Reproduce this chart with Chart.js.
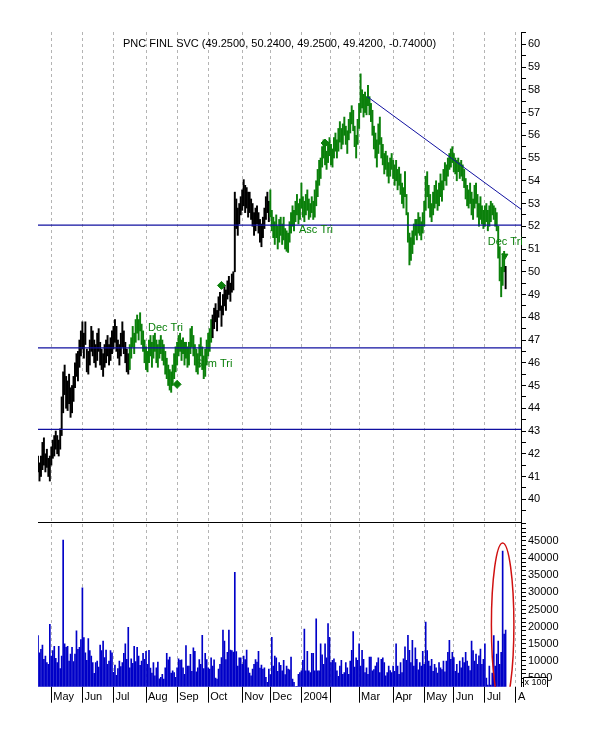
<!DOCTYPE html>
<html>
<head>
<meta charset="utf-8">
<title>PNC FINL SVC</title>
<script src="https://cdn.jsdelivr.net/npm/chart.js@4.4.0/dist/chart.umd.min.js"></script>
<style>
  html, body { margin: 0; padding: 0; background: #fff; }
  #wrap { width: 607px; height: 735px; }
</style>
</head>
<body>
<div id="wrap"><canvas id="chart" width="607" height="735"></canvas></div>
<script>
// PNC daily bars, mid-Apr 2003 .. Jul 2004 (x = trading day number)

const chartTitle = 'PNC FINL SVC (49.2500, 50.2400, 49.2500, 49.4200, -0.74000)';

const lows = [
  41.2,40.8,41.0,41.3,41.5,41.2,41.4,41.0,40.8,41.5,
  41.8,41.9,42.2,42.0,41.9,42.2,42.8,43.8,44.6,44.0,
  43.9,44.2,43.6,43.8,44.3,44.9,45.4,45.2,45.8,46.3,
  46.6,46.2,46.8,45.6,45.5,45.9,46.5,46.3,46.0,45.8,
  46.1,46.5,45.9,45.7,45.4,45.8,46.0,46.3,45.9,46.1,
  46.4,46.6,46.9,46.5,46.2,45.9,46.3,46.7,46.4,46.0,
  45.6,45.5,45.7,46.2,46.7,46.4,46.9,47.3,47.0,47.4,
  46.8,46.5,46.0,45.7,45.6,46.0,46.3,45.8,46.2,46.5,
  46.0,45.8,46.2,46.4,46.1,45.9,45.5,45.3,45.0,44.8,
  44.7,45.0,45.3,45.6,45.9,46.3,46.5,46.1,46.4,45.9,
  46.2,45.8,45.9,46.4,46.7,46.3,45.9,45.6,45.5,45.8,
  46.3,45.7,45.3,45.4,45.9,46.3,46.5,46.9,47.1,47.5,
  47.8,47.4,48.0,48.3,47.6,48.1,48.5,48.3,48.8,49.0,
  48.7,49.1,49.2,50.0,51.9,51.6,52.1,52.5,52.7,52.9,
  52.6,52.8,52.4,52.6,52.3,52.0,51.6,51.8,52.1,51.7,
  51.3,51.1,51.5,51.9,52.3,52.6,52.2,52.4,51.8,51.5,
  51.2,51.5,51.0,51.3,51.6,51.2,51.4,51.0,50.9,50.85,
  51.3,51.7,52.0,51.8,52.2,52.5,52.1,52.3,52.8,52.4,
  52.2,52.5,52.7,52.3,52.4,52.6,52.3,52.4,52.9,53.3,
  53.8,54.1,54.6,55.0,54.7,54.5,54.8,55.1,54.7,54.6,
  55.0,55.3,55.0,55.3,55.7,55.4,55.6,56.0,55.6,55.2,
  55.8,56.1,56.5,56.2,55.5,55.0,55.6,56.3,57.0,57.2,
  56.8,57.0,56.9,57.3,56.9,56.6,56.0,55.4,55.0,54.6,
  55.2,55.6,55.0,54.7,54.3,54.5,54.2,53.9,54.2,54.5,
  54.1,53.8,54.0,53.6,53.8,53.4,53.0,52.8,53.3,52.5,
  51.3,50.3,50.5,50.8,51.2,51.6,51.4,51.7,51.6,51.4,
  51.7,52.0,52.7,53.3,52.8,52.4,52.2,52.5,52.8,53.0,
  52.7,52.9,53.3,53.1,53.6,54.0,53.8,54.2,54.5,54.6,
  54.8,54.4,54.3,54.0,54.4,54.1,54.2,54.0,53.7,53.2,
  52.9,52.8,53.0,52.5,52.3,52.8,53.0,52.4,52.0,52.3,
  52.1,51.9,52.0,52.2,51.8,52.0,52.2,52.5,52.3,52.0,
  51.8,50.6,49.6,48.9,49.4,50.0,49.25
];

const highs = [
  41.9,41.6,41.9,42.5,42.7,42.0,42.2,41.8,41.9,42.3,
  42.6,42.8,43.0,42.8,42.6,43.1,44.5,45.6,45.9,45.4,
  45.2,45.5,44.9,45.0,45.4,46.0,46.4,46.5,47.0,47.4,
  47.8,47.3,47.8,46.6,46.5,47.0,47.6,47.4,47.0,46.8,
  47.3,47.5,46.9,46.6,46.4,46.8,47.0,47.2,46.8,47.1,
  47.4,47.6,47.9,47.6,47.0,46.8,47.3,47.8,47.4,46.9,
  46.6,46.4,46.8,47.1,47.6,47.3,47.9,48.1,47.9,48.2,
  47.7,47.4,47.0,46.7,46.5,47.0,47.2,46.9,47.2,47.3,
  47.0,46.8,47.0,47.2,47.0,46.8,46.5,46.2,45.9,45.7,
  45.6,45.9,46.4,46.7,46.9,47.2,47.3,47.0,47.1,46.9,
  46.9,46.7,46.9,47.5,47.6,47.2,46.8,46.6,46.4,46.8,
  47.1,46.7,46.3,46.6,47.0,47.3,47.5,47.9,48.1,48.4,
  48.6,48.3,48.9,49.1,48.5,49.0,49.4,49.2,49.6,49.8,
  49.5,49.9,50.0,53.5,53.2,52.8,53.0,53.3,53.6,54.05,
  53.8,53.7,53.5,53.5,53.2,53.0,52.6,52.8,52.9,52.6,
  52.3,52.1,52.4,52.8,53.3,53.5,53.1,53.6,52.7,52.4,
  52.2,52.5,52.0,52.3,52.4,52.1,52.4,51.9,51.8,51.7,
  52.2,52.6,52.9,52.7,53.1,53.4,53.0,53.2,53.9,53.3,
  53.1,53.4,53.6,53.2,53.0,53.3,53.1,53.6,54.0,54.5,
  54.9,55.0,55.5,55.8,55.6,55.3,55.7,55.9,55.6,55.4,
  55.9,56.1,55.8,56.3,56.6,56.3,56.5,56.8,56.4,56.2,
  56.7,57.0,57.3,57.1,56.4,56.0,56.7,57.4,58.7,58.0,
  57.8,57.9,57.7,58.2,57.7,57.4,57.1,56.4,56.1,55.8,
  56.5,56.8,55.9,55.6,55.2,55.3,55.1,54.8,55.0,55.2,
  54.9,54.7,54.9,54.5,54.6,54.3,53.9,53.7,54.4,53.4,
  52.6,51.7,51.5,51.8,52.1,52.3,52.3,52.6,52.4,52.2,
  52.6,53.1,54.2,54.4,53.8,53.4,53.0,53.5,53.8,54.0,
  53.6,53.9,54.3,54.0,54.5,54.8,54.7,55.0,55.2,55.4,
  55.5,55.2,55.0,54.9,55.0,54.8,54.9,54.7,54.5,54.1,
  53.8,53.6,53.9,53.5,53.2,53.8,53.9,53.4,53.0,53.3,
  52.9,52.7,52.9,53.0,52.7,52.9,53.1,53.0,52.9,52.8,
  52.6,52.0,51.1,50.2,50.8,50.9,50.24
];

const volumes = [
  17400,12400,13400,14600,10500,11400,9500,9000,20700,11400,
  13000,14300,10800,9500,14300,7800,11400,45200,15000,14000,
  14300,10000,12000,14000,9800,12000,18800,13400,14000,16200,
  31300,16800,12400,10200,16500,13000,11400,9500,6400,9500,
  10000,8200,14600,13000,15800,11000,13200,9000,10000,13000,
  12400,6700,8800,5800,7800,10000,8400,9500,12200,15000,
  10500,19800,8000,10600,9300,14300,9800,14000,11400,8700,
  10000,12200,10500,12800,9000,13100,7900,6500,9500,5700,
  8000,9700,4800,5200,6100,4700,8000,12200,10300,11100,
  6500,7100,6600,5200,8000,10600,10200,10300,8000,6100,
  14500,8500,8500,11900,7000,13800,12800,6800,8000,10400,
  9000,17500,7800,12200,10400,8000,7600,10900,8500,10300,
  5000,4700,7600,9000,11000,19000,15800,10400,12500,19000,
  13200,13000,12600,35800,12700,8500,10900,10900,9000,11400,
  10400,13200,8000,6500,5700,7600,9000,10400,9700,12800,
  7900,8800,7600,8000,5200,3800,7600,6000,16900,8500,
  11400,10900,7000,9500,8700,7100,10200,6000,8500,7600,
  7400,11100,4700,3800,2500,2600,6100,6600,7100,10200,
  19300,7100,12800,7100,6600,12200,12200,7100,22300,7100,
  7100,15000,11800,9000,15000,10900,20900,16900,9500,10200,
  10600,9500,7100,5500,8500,10200,6100,6600,9500,8000,
  6100,10000,13100,18600,8200,10900,10200,15000,8500,13100,
  10500,6600,8000,6100,11100,11100,7100,7500,8500,9500,
  10900,6600,10500,10900,9500,5700,6600,8500,7200,6600,
  8500,7000,15000,8500,6100,9500,6600,10600,14100,10200,
  17500,13100,9500,16000,8500,13800,10500,7400,9500,8500,
  12800,9000,21300,13000,10000,8500,10500,7000,9000,8000,
  6500,9500,8000,7500,10000,6800,10000,12500,16000,10500,
  12500,11000,7000,9000,6500,10000,8000,11000,9500,12500,
  10000,8500,7200,15800,13000,10000,12000,9000,11500,13500,
  9000,10500,15000,5000,3000,8500,3000,6500,17400,8500,
  12000,15800,9000,12500,42000,17800,19000
];

// first trading day of each month
const monthTicks = [9, 30, 51, 73, 94, 115, 138, 157, 178, 198, 217, 240, 261, 281, 302, 323];
const monthLabels = ['May', 'Jun', 'Jul', 'Aug', 'Sep', 'Oct', 'Nov', 'Dec', '2004', '', 'Mar', 'Apr', 'May', 'Jun', 'Jul', 'A'];

const priceLabels = [40, 41, 42, 43, 44, 45, 46, 47, 48, 49, 50, 51, 52, 53, 54, 55, 56, 57, 58, 59, 60];
const volumeLabels = [5000, 10000, 15000, 20000, 25000, 30000, 35000, 40000, 45000];

// drawn lines / marks
const supportLevels = [52.05, 46.65, 43.07];
const trendLine = [[222.5, 57.7], [326.4, 52.75]];
const breakoutMarks = [[94, 45.05], [124, 49.4], [194, 55.66]];
const signalMarks = [[315.5, 50.7]];
const patternNames = ['Dec Tri', 'Sym Tri', 'Asc Tri', 'Dec Tri'];
const patternAt = [[74.3, 47.52], [106.1, 45.93], [176.4, 51.82], [303.9, 51.3]];
const volumeCircle = { x: 314, y: 20500, dx: 7.6, dy: 23900 };

// bars outside a detected pattern are plain black
const blackRuns = [[0, 61], [118, 156], [316, 316]];

const FONT = "'Liberation Sans', Arial, sans-serif";
const GREEN = '#0b800b';
const NAVY = '#1010a0';
const X_MAX = 326.4;

function barColor(i) {
    return blackRuns.some(r => i >= r[0] && i <= r[1]) ? '#000000' : GREEN;
}

const days = lows.map((_, i) => i);

const datasets = [
    {
        type: 'bar',
        yAxisID: 'y',
        data: days.map(i => ({ x: i, y: [lows[i], highs[i]] })),
        backgroundColor: ctx => barColor(ctx.dataIndex),
        barThickness: 1.3,
        grouped: false,
        order: 3
    },
    {
        type: 'bar',
        yAxisID: 'yv',
        data: days.map(i => ({ x: i, y: volumes[i] })),
        backgroundColor: '#0000c8',
        barThickness: 1,
        grouped: false,
        order: 3
    }
];

supportLevels.forEach(level => {
    datasets.push({
        type: 'line',
        yAxisID: 'y',
        data: [{ x: 0, y: level }, { x: X_MAX, y: level }],
        borderColor: NAVY,
        borderWidth: 1.3,
        pointRadius: 0,
        order: 1
    });
});

datasets.push({
    type: 'line',
    yAxisID: 'y',
    data: trendLine.map(p => ({ x: p[0], y: p[1] })),
    borderColor: NAVY,
    borderWidth: 1,
    pointRadius: 0,
    order: 1
});

datasets.push({
    type: 'line',
    yAxisID: 'y',
    data: breakoutMarks.map(p => ({ x: p[0], y: p[1] })),
    showLine: false,
    pointStyle: 'rectRot',
    pointRadius: 4,
    backgroundColor: GREEN,
    borderColor: GREEN,
    order: 0
});

datasets.push({
    type: 'line',
    yAxisID: 'y',
    data: signalMarks.map(p => ({ x: p[0], y: p[1] })),
    showLine: false,
    pointStyle: 'triangle',
    rotation: 180,
    pointRadius: 3.5,
    backgroundColor: GREEN,
    borderColor: GREEN,
    order: 0
});

// title, pattern names, volume circle, separator, x100 box
const overlay = {
    id: 'overlay',
    beforeDatasetsDraw(chart) {
        const { ctx, chartArea: a } = chart;
        const yv = chart.scales.yv;
        const ys = Math.round(yv.top) + 0.5;
        ctx.save();
        ctx.strokeStyle = '#000';
        ctx.lineWidth = 1;
        ctx.beginPath();
        ctx.moveTo(a.left, ys);
        ctx.lineTo(a.right, ys);
        ctx.stroke();
        ctx.restore();
    },
    afterDatasetsDraw(chart) {
        const { ctx, chartArea: a } = chart;
        const { x, y, yv } = chart.scales;
        ctx.save();
        ctx.font = '11px ' + FONT;
        ctx.textBaseline = 'middle';
        ctx.fillStyle = '#000';
        ctx.textAlign = 'center';
        ctx.fillText(chartTitle, (a.left + a.right) / 2, a.top + 12);

        ctx.fillStyle = GREEN;
        ctx.textAlign = 'left';
        patternNames.forEach((t, i) => {
            ctx.fillText(t, x.getPixelForValue(patternAt[i][0]), y.getPixelForValue(patternAt[i][1]));
        });

        ctx.beginPath();
        ctx.rect(a.left, yv.top, a.right - a.left, yv.bottom - yv.top);
        ctx.clip();
        const cx = x.getPixelForValue(volumeCircle.x);
        const cy = yv.getPixelForValue(volumeCircle.y);
        const rx = x.getPixelForValue(volumeCircle.x + volumeCircle.dx) - cx;
        const ry = cy - yv.getPixelForValue(volumeCircle.y + volumeCircle.dy);
        ctx.beginPath();
        ctx.ellipse(cx, cy, rx, ry, 0, 0, Math.PI * 2);
        ctx.strokeStyle = '#d01010';
        ctx.lineWidth = 1.5;
        ctx.stroke();
        ctx.restore();
    },
    afterDraw(chart) {
        const { ctx } = chart;
        const yv = chart.scales.yv;
        const bx = Math.round(yv.left) + 2, by = Math.round(yv.bottom) - 10, bw = 24, bh = 10;
        ctx.save();
        ctx.fillStyle = '#fff';
        ctx.fillRect(bx, by, bw, bh);
        ctx.strokeStyle = '#000';
        ctx.lineWidth = 1;
        ctx.beginPath();
        ctx.moveTo(bx + 0.5, by + bh);
        ctx.lineTo(bx + 0.5, by + 0.5);
        ctx.lineTo(bx + bw + 0.5, by + 0.5);
        ctx.lineTo(bx + bw + 0.5, by + bh);
        ctx.stroke();
        ctx.fillStyle = '#000';
        ctx.font = '9px ' + FONT;
        ctx.textAlign = 'center';
        ctx.textBaseline = 'middle';
        ctx.fillText('x 100', bx + bw / 2 + 0.5, by + bh / 2 + 1);
        ctx.restore();
    }
};

const tickFont = { family: FONT, size: 11 };

new Chart(document.getElementById('chart'), {
    type: 'bar',
    data: { datasets },
    options: {
        responsive: false,
        animation: false,
        layout: { padding: { left: 38, top: 32, right: 0, bottom: 0 } },
        plugins: { legend: { display: false }, tooltip: { enabled: false } },
        scales: {
            y: {
                axis: 'y',
                type: 'linear',
                position: 'right',
                stack: 'panels',
                stackWeight: 490,
                min: 39,
                max: 60.54,
                afterBuildTicks: s => {
                    const t = [];
                    for (let v = 39.5; v <= 60.5; v += 0.5) t.push({ value: v });
                    s.ticks = t;
                },
                afterFit: s => { s.width = 86; },
                grid: { drawOnChartArea: false, color: '#000', tickLength: 5 },
                border: { color: '#000', width: 1 },
                ticks: {
                    autoSkip: false,
                    padding: 2,
                    color: '#000',
                    font: tickFont,
                    callback: v => priceLabels.includes(v) ? String(v) : ''
                }
            },
            yv: {
                axis: 'y',
                type: 'linear',
                position: 'right',
                stack: 'panels',
                stackWeight: 164.7,
                min: 2500,
                max: 50500,
                afterBuildTicks: s => {
                    const t = [];
                    for (let v = 3750; v <= 50000; v += 1250) t.push({ value: v });
                    s.ticks = t;
                },
                afterFit: s => { s.width = 86; },
                grid: { drawOnChartArea: false, color: '#000', tickLength: 5 },
                border: { color: '#000', width: 1 },
                ticks: {
                    autoSkip: false,
                    padding: 2,
                    color: '#000',
                    font: tickFont,
                    callback: v => volumeLabels.includes(v) ? String(v) : ''
                }
            },
            x: {
                type: 'linear',
                position: 'bottom',
                min: 0,
                max: X_MAX,
                offset: false,
                afterBuildTicks: s => { s.ticks = monthTicks.map(v => ({ value: v })); },
                afterFit: s => { s.height = 48.3; },
                grid: {
                    offset: false,
                    color: '#b4b4b4',
                    lineWidth: 1,
                    tickLength: 16,
                    tickColor: '#000'
                },
                border: { display: false, dash: [3, 3] },
                ticks: {
                    autoSkip: false,
                    maxRotation: 0,
                    align: 'start',
                    labelOffset: 2,
                    padding: -12,
                    color: '#000',
                    font: tickFont,
                    callback: (v, i) => monthLabels[i]
                }
            }
        }
    },
    plugins: [overlay]
});
</script>
</body>
</html>
